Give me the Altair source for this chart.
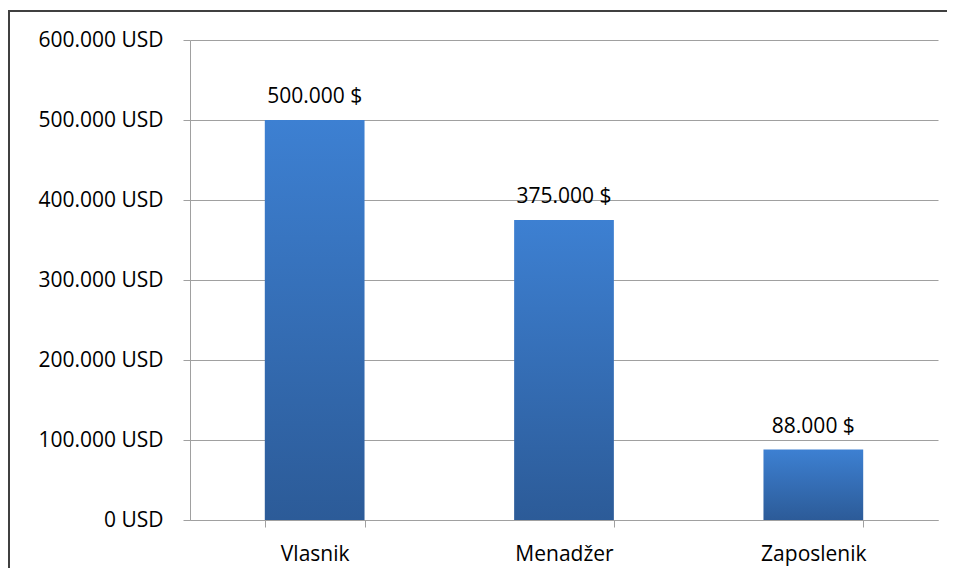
import altair as alt
import pandas as pd

categories = ["Vlasnik", "Menadžer", "Zaposlenik"]
values = [500000, 375000, 88000]
value_labels = ["500.000 $", "375.000 $", "88.000 $"]
y_ticks = [0, 100000, 200000, 300000, 400000, 500000, 600000]

df = pd.DataFrame({"cat": categories, "val": values, "lbl": value_labels})

FONT = "Open Sans"
FS = 21
GRID = "#a0a0a0"

x = alt.X(
    "cat:N", sort=categories, title=None,
    scale=alt.Scale(paddingInner=0.6, paddingOuter=0.3),
    axis=alt.Axis(labelAngle=0, labelFontSize=FS, labelFont=FONT, labelColor="black",
                  tickBand="extent", tickSize=7, tickColor=GRID, domainColor=GRID,
                  labelPadding=16, grid=False),
)
y = alt.Y(
    "val:Q", title=None,
    scale=alt.Scale(domain=[0, 600000], nice=False),
    axis=alt.Axis(values=y_ticks, labelFontSize=FS, labelFont=FONT, labelColor="black",
                  labelExpr="replace(format(datum.value, ',d'), /,/g, '.') + ' USD'",
                  tickSize=7, tickColor=GRID, domainColor=GRID, gridColor=GRID,
                  labelPadding=20, grid=True),
)

grad = alt.Gradient(
    gradient="linear",
    stops=[alt.GradientStop(color="#3d80d2", offset=0),
           alt.GradientStop(color="#2c5b98", offset=1)],
    x1=0, x2=0, y1=0, y2=1,
)

bars = alt.Chart(df).mark_bar(color=grad).encode(x=x, y=y)
texts = alt.Chart(df).mark_text(baseline="alphabetic", dy=-17, fontSize=FS, font=FONT,
                                color="black").encode(x=x, y=y, text="lbl:N")

one = pd.DataFrame({"a": [0]})
frame_left = alt.Chart(one).mark_rect(color="#404040", strokeWidth=0).encode(
    x=alt.value(-182), x2=alt.value(-180), y=alt.value(-30), y2=alt.value(600))
frame_top = alt.Chart(one).mark_rect(color="#404040", strokeWidth=0).encode(
    x=alt.value(-182), x2=alt.value(800), y=alt.value(-30), y2=alt.value(-28))

chart = alt.layer(frame_left, frame_top, bars, texts).properties(
    width=748, height=480,
    autosize=alt.AutoSizeParams(type="none"),
    padding={"left": 182, "top": 32, "right": 9, "bottom": 48},
).configure_view(stroke=None)

chart.save("out.html", embed_options={"renderer": "svg", "actions": False})
